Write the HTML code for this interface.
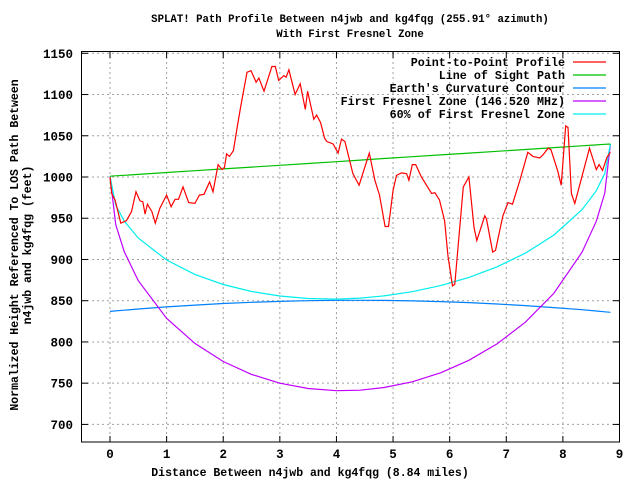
<!DOCTYPE html>
<html><head><meta charset="utf-8"><style>
body{margin:0;background:#fff}
svg{display:block}
text{font-family:"Liberation Mono",monospace;font-weight:bold;fill:#000}
</style></head><body>
<svg id="chart" width="640" height="480" viewBox="0 0 640 480" xmlns="http://www.w3.org/2000/svg">
<text x="350" y="22" font-size="10.7" text-anchor="middle">SPLAT! Path Profile Between n4jwb and kg4fqg (255.91° azimuth)</text>
<text x="350" y="37" font-size="10.7" text-anchor="middle">With First Fresnel Zone</text>
<g id="grid"></g>
<g id="series"></g>
<rect x="81.5" y="51.5" width="538" height="390.5" fill="none" stroke="#000" stroke-width="1"/>
<g id="ticks"></g>
<text x="310" y="476" font-size="11.5" text-anchor="middle">Distance Between n4jwb and kg4fqg (8.84 miles)</text>
<text transform="translate(18,245) rotate(-90)" font-size="11.5" text-anchor="middle">Normalized Height Referenced To LOS Path Between</text>
<text transform="translate(31,245) rotate(-90)" font-size="11.5" text-anchor="middle">n4jwb and kg4fqg (feet)</text>
<g id="legend"></g>
</svg>
<script>
const xTicks=[0,1,2,3,4,5,6,7,8,9];
const yTicks=[700,750,800,850,900,950,1000,1050,1100,1150];
const profileD=[0,0.03,0.09,0.19,0.29,0.38,0.46,0.53,0.58,0.62,0.66,0.74,0.80,0.88,1.0,1.08,1.15,1.21,1.29,1.39,1.50,1.58,1.66,1.76,1.82,1.91,1.98,2.02,2.06,2.11,2.18,2.25,2.31,2.42,2.49,2.58,2.63,2.72,2.86,2.92,2.98,3.07,3.11,3.16,3.27,3.36,3.45,3.49,3.60,3.65,3.72,3.79,3.83,3.94,4.03,4.09,4.15,4.29,4.40,4.58,4.68,4.76,4.86,4.92,5.0,5.06,5.15,5.24,5.28,5.34,5.40,5.50,5.68,5.74,5.82,5.91,5.97,6.05,6.09,6.24,6.34,6.43,6.48,6.62,6.65,6.76,6.81,6.94,7.03,7.11,7.24,7.38,7.47,7.59,7.65,7.74,7.79,7.91,7.97,8.05,8.09,8.15,8.21,8.35,8.47,8.59,8.64,8.70,8.78,8.84];
const profileH=[1000,980,972,944,947,958,982,971,970,955,967,958,944,962,978,964,973,973,988,969,968,978,979,994,982,1015,1009,1011,1028,1025,1032,1062,1086,1127,1129,1115,1120,1104,1134,1134,1117,1123,1121,1130,1100,1113,1082,1104,1070,1075,1066,1047,1043,1040,1029,1046,1043,1004,990,1029,996,978,940,940,984,1002,1005,1004,996,1015,1015,1000,980,981,972,947,904,868,870,988,1000,939,923,953,949,909,911,953,969,967,996,1030,1025,1023,1027,1035,1033,1007,990,1062,1060,980,968,1004,1035,1009,1015,1008,1024,1030];
const curveD=[0,0.1,0.25,0.5,1,1.5,2,2.5,3,3.5,4,4.42,4.84,5.34,5.84,6.34,6.84,7.34,7.84,8.34,8.59,8.74,8.84];
const losH=[1001,1001.4,1002.1,1003.2,1005.4,1007.6,1009.8,1012,1014.2,1016.4,1018.6,1020.5,1022.4,1024.6,1026.8,1029,1031.2,1033.4,1035.6,1037.8,1038.9,1039.6,1040];
const earthH=[837,837.6,838.5,839.9,842.5,844.7,846.6,848.1,849.2,850,850.5,850.5,850.4,849.8,848.9,847.7,846,844.1,841.7,839.1,837.5,836.6,836];
const fresnelH=[1001,942.4,909.6,874.3,828.7,798.2,776.3,760.7,750,743.5,740.9,741.5,744.7,751.7,762.6,777.7,797.7,824,858.9,908.9,946.4,980.6,1040];
const fresnel60H=[1001,966,946.6,925.9,899.4,881.9,869.7,861.2,855.7,852.7,852,853.1,855.8,860.9,868.3,878.2,891.1,907.7,929.6,960.5,983.4,1004.2,1040];
const legendLabels=["Point-to-Point Profile","Line of Sight Path","Earth's Curvature Contour","First Fresnel Zone (146.520 MHz)","60% of First Fresnel Zone"];

const NS="http://www.w3.org/2000/svg";
const X0=81.7,X1=619.5,DMIN=-0.5,DMAX=9;
function xs(d){return X0+(d-DMIN)/(DMAX-DMIN)*(X1-X0);}
function ys(v){return 177-(v-1000)*0.8247;}
function mk(tag,attrs,parent){const e=document.createElementNS(NS,tag);for(const k in attrs)e.setAttribute(k,attrs[k]);parent.appendChild(e);return e;}
const grid=document.getElementById('grid'),ticks=document.getElementById('ticks'),series=document.getElementById('series'),legend=document.getElementById('legend');
xTicks.forEach(t=>{const x=xs(t);
 if(t<9){const g=mk('line',{x1:x,x2:x,y1:52,y2:442,stroke:'#a0a0a0','stroke-dasharray':'2,3'},grid);
 
 }
 const l=mk('line',{x1:x,x2:x,y1:442,y2:436,stroke:'#000'},ticks);
 
 
 const l2=mk('line',{x1:x,x2:x,y1:52,y2:58,stroke:'#000'},ticks);
 
 
 const tx=mk('text',{x:x,y:458,'font-size':'12.5','text-anchor':'middle'},ticks);tx.textContent=t;
 
 
});
yTicks.forEach(t=>{const y=ys(t);
 const g=mk('line',{x1:82,x2:619,y1:y,y2:y,stroke:'#a0a0a0','stroke-dasharray':'2,3'},grid);
 
 
 const l=mk('line',{x1:82,x2:88,y1:y,y2:y,stroke:'#000'},ticks);
 
 
 const l2=mk('line',{x1:613,x2:619,y1:y,y2:y,stroke:'#000'},ticks);
 
 
 const tx=mk('text',{x:73,y:y+4.5,'font-size':'12.5','text-anchor':'end'},ticks);tx.textContent=t;
 
 
});
function poly(ds,hs,color,name){const pts=ds.map((d,i)=>xs(d).toFixed(1)+','+ys(hs[i]).toFixed(1)).join(' ');
 const p=mk('polyline',{points:pts,fill:'none',stroke:color,'stroke-width':'1.2'},series);
 
 }
const colors=['#ff0000','#00c000','#0080ff','#c000ff','#00eeee'];
poly(curveD,earthH,colors[2],'earth-curvature-line');
poly(curveD,fresnelH,colors[3],'fresnel-zone-line');
poly(curveD,fresnel60H,colors[4],'fresnel-60-line');
poly(curveD,losH,colors[1],'line-of-sight-line');
poly(profileD,profileH,colors[0],'terrain-profile-line');
legendLabels.forEach((lab,i)=>{const y=62+i*13;
 const t=mk('text',{x:565,y:y+4,'font-size':'11.7','text-anchor':'end'},legend);t.textContent=lab;
 
 
 const l=mk('line',{x1:573,x2:606,y1:y,y2:y,stroke:colors[i],'stroke-width':'1.2'},legend);
 
 
});
</script>
</body></html>
